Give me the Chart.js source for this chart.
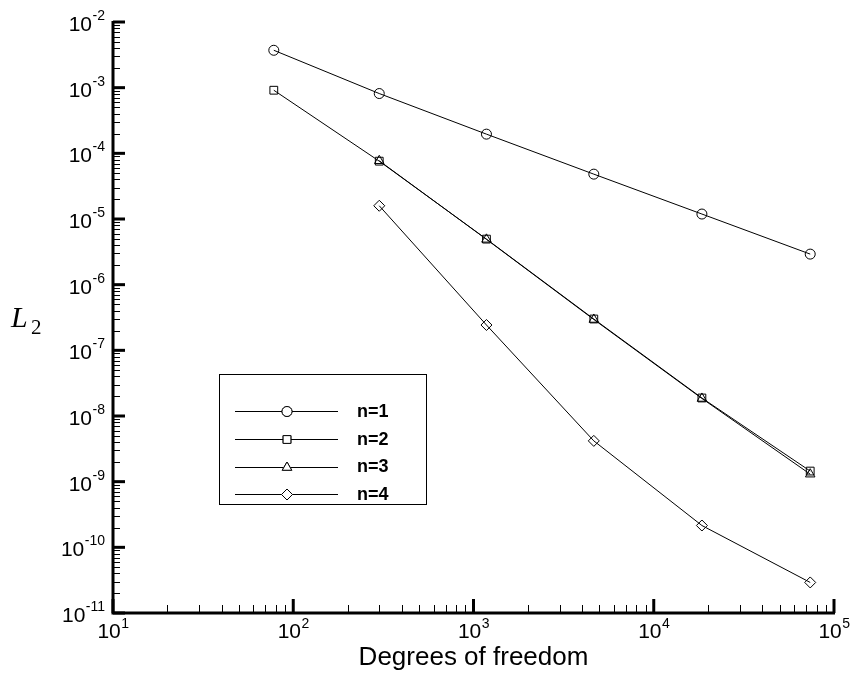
<!DOCTYPE html>
<html>
<head>
<meta charset="utf-8">
<script src="https://cdn.jsdelivr.net/npm/chart.js@4/dist/chart.umd.min.js"></script>
<style>
  html, body { margin: 0; padding: 0; background: #fff; }
  canvas { display: block; }
</style>
</head>
<body>
<canvas id="c" width="854" height="679"></canvas>
<script>
// Degrees of freedom for each mesh level
const dof = [78, 300, 1180, 4650, 18500, 73800];

// L2 error per polynomial order (null where the order was not run)
const errN1 = [3.71e-3, 8.14e-4, 1.96e-4, 4.82e-5, 1.19e-5, 2.92e-6];
const errN2 = [9.14e-4, 7.6e-5, 4.94e-6, 3.0e-7, 1.88e-8, 1.45e-9];
const errN3 = [null, 7.7e-5, 4.9e-6, 2.95e-7, 1.85e-8, 1.3e-9];
const errN4 = [null, 1.59e-5, 2.43e-7, 4.18e-9, 2.15e-10, 2.92e-11];

const seriesLabels = ['n=1', 'n=2', 'n=3', 'n=4'];
const seriesStyles = ['circle', 'rect', 'triangle', 'rectRot'];

// Axis decades
const xDecades = [1, 2, 3, 4, 5];
const yDecades = [-2, -3, -4, -5, -6, -7, -8, -9, -10, -11];

const xTitle = 'Degrees of freedom';

function toPoints(values) {
  const pts = [];
  values.forEach((v, i) => { if (v !== null) pts.push({ x: dof[i], y: v }); });
  return pts;
}

const radii = [5, 5.5, 5.5, 5.5];
const datasets = [errN1, errN2, errN3, errN4].map((vals, i) => ({
  label: seriesLabels[i],
  data: toPoints(vals),
  borderColor: '#000',
  borderWidth: 1,
  pointStyle: seriesStyles[i],
  pointRadius: radii[i],
  pointBorderWidth: 1,
  pointBorderColor: '#000',
  pointBackgroundColor: 'rgba(255,255,255,0)',
  fill: false,
  tension: 0
}));

const axesPlugin = {
  id: 'frameAxes',
  afterDraw(chart) {
    const ctx = chart.ctx;
    const xs = chart.scales.x, ys = chart.scales.y;
    const a = chart.chartArea;
    ctx.save();
    ctx.strokeStyle = '#000';
    ctx.fillStyle = '#000';

    // x-axis ticks (inward)
    for (let d = 1; d <= 5; d++) {
      const base = Math.pow(10, d);
      const px = xs.getPixelForValue(base);
      ctx.lineWidth = 3;
      ctx.beginPath(); ctx.moveTo(px, a.bottom); ctx.lineTo(px, a.bottom - 14); ctx.stroke();
      if (d < 5) {
        ctx.lineWidth = 1;
        for (let m = 2; m <= 9; m++) {
          const mx = Math.round(xs.getPixelForValue(m * base)) + 0.5;
          ctx.beginPath(); ctx.moveTo(mx, a.bottom); ctx.lineTo(mx, a.bottom - 8); ctx.stroke();
        }
      }
    }
    // y-axis ticks (inward)
    for (let d = -11; d <= -2; d++) {
      const base = Math.pow(10, d);
      const py = ys.getPixelForValue(base);
      ctx.lineWidth = 3;
      ctx.beginPath(); ctx.moveTo(a.left, py); ctx.lineTo(a.left + 12, py); ctx.stroke();
      if (d < -2) {
        ctx.lineWidth = 1;
        for (let m = 2; m <= 9; m++) {
          const my = Math.round(ys.getPixelForValue(m * base)) + 0.5;
          ctx.beginPath(); ctx.moveTo(a.left, my); ctx.lineTo(a.left + 7, my); ctx.stroke();
        }
      }
    }
    // axis lines
    ctx.lineWidth = 3;
    ctx.beginPath();
    ctx.moveTo(a.left, a.top - 1);
    ctx.lineTo(a.left, a.bottom);
    ctx.lineTo(a.right + 1, a.bottom);
    ctx.stroke();

    // power-of-ten labels
    const bigFont = '21px "Liberation Sans", Arial, sans-serif';
    const smallFont = '14px "Liberation Sans", Arial, sans-serif';
    ctx.textBaseline = 'alphabetic';
    xDecades.forEach(e => {
      const px = xs.getPixelForValue(Math.pow(10, e));
      ctx.font = bigFont; const w1 = ctx.measureText('10').width;
      ctx.font = smallFont; const w2 = ctx.measureText(String(e)).width;
      const x0 = px - (w1 + w2) / 2;
      ctx.font = bigFont; ctx.textAlign = 'left';
      ctx.fillText('10', x0, a.bottom + 25);
      ctx.font = smallFont;
      ctx.fillText(String(e), x0 + w1 + 0.5, a.bottom + 15);
    });
    yDecades.forEach(e => {
      const py = ys.getPixelForValue(Math.pow(10, e));
      const exp = String(e);
      ctx.font = smallFont; const w2 = ctx.measureText(exp).width;
      const right = a.left - 8;
      ctx.textAlign = 'left';
      ctx.fillText(exp, right - w2, py - 2);
      ctx.font = bigFont; const w1 = ctx.measureText('10').width;
      ctx.fillText('10', right - w2 - w1 - 0.5, py + 9);
    });

    // axis titles
    ctx.font = '26px "Liberation Sans", Arial, sans-serif';
    ctx.textAlign = 'center';
    ctx.fillText(xTitle, (a.left + a.right) / 2, 665);
    ctx.textAlign = 'left';
    ctx.font = 'italic 30px "Liberation Serif", "Times New Roman", serif';
    ctx.fillText('L', 11, 327);
    ctx.font = '21px "Liberation Serif", "Times New Roman", serif';
    ctx.fillText('2', 31, 334);

    // legend box
    const box = { left: 219, top: 374, right: 426, bottom: 504 };
    ctx.lineWidth = 1;
    ctx.strokeStyle = '#000';
    ctx.strokeRect(box.left + 0.5, box.top + 0.5, box.right - box.left, box.bottom - box.top);
    const rowY = [411, 439, 466.5, 494];
    ctx.font = 'bold 18px "Liberation Sans", Arial, sans-serif';
    ctx.textBaseline = 'middle';
    chart.data.datasets.forEach((ds, i) => {
      const y = Math.round(rowY[i]) + 0.5;
      ctx.beginPath(); ctx.moveTo(235, y); ctx.lineTo(338, y); ctx.stroke();
      ctx.fillStyle = '#fff';
      ctx.strokeStyle = '#000';
      Chart.helpers.drawPoint(ctx, { pointStyle: ds.pointStyle, radius: ds.pointRadius, borderWidth: 1, rotation: 0 }, 287, y);
      ctx.fill();
      Chart.helpers.drawPoint(ctx, { pointStyle: ds.pointStyle, radius: ds.pointRadius, borderWidth: 1, rotation: 0 }, 287, y);
      ctx.fillStyle = '#000';
      ctx.fillText(ds.label, 357, rowY[i] + 1);
    });
    ctx.restore();
  }
};

new Chart(document.getElementById('c'), {
  type: 'line',
  data: { datasets },
  options: {
    responsive: false,
    animation: false,
    devicePixelRatio: 1,
    layout: { padding: { left: 113, right: 20, top: 22, bottom: 66 } },
    plugins: { legend: { display: false }, tooltip: { enabled: false } },
    scales: {
      x: { type: 'logarithmic', min: 10, max: 1e5, display: false },
      y: { type: 'logarithmic', min: 1e-11, max: 1e-2, display: false }
    },
    elements: { line: { borderJoinStyle: 'miter' } }
  },
  plugins: [axesPlugin]
});
</script>
</body>
</html>
